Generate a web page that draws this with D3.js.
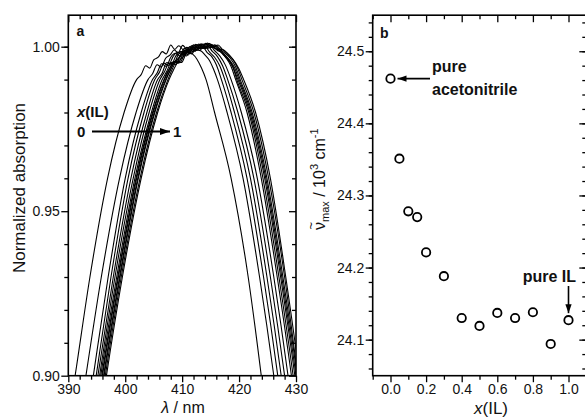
<!DOCTYPE html>
<html>
<head>
<meta charset="utf-8">
<script src="https://cdn.jsdelivr.net/npm/d3@7"></script>
<style>
  body { margin: 0; background: #fff; }
  svg text { font-family: Arial, "Liberation Sans", sans-serif; fill: #111; }
</style>
</head>
<body>
<div id="chart"></div>
<script>
// panel b: band maximum vs. mole fraction of ionic liquid
const fractions = [0, 0.05, 0.1, 0.15, 0.2, 0.3, 0.4, 0.5, 0.6, 0.7, 0.8, 0.9, 1.0];
const wavenumbers = [24.462, 24.351, 24.278, 24.270, 24.221, 24.188, 24.130, 24.119, 24.137, 24.130, 24.138, 24.094, 24.127];

// panel a: spectra, one row per fraction (same order as above)
// wavelength where each flank crosses these absorbance levels
const flankLevels = [0.88, 0.90, 0.93, 0.96, 0.98, 0.99];
const leftFlank = [
  [389.4, 391.2, 393.8, 396.9, 399.8, 402.0],
  [391.4, 393.1, 395.8, 399.0, 401.9, 404.0],
  [392.7, 394.4, 397.0, 400.0, 402.8, 404.8],
  [393.2, 394.9, 397.5, 400.5, 403.3, 405.2],
  [393.5, 395.2, 397.9, 401.0, 403.8, 405.7],
  [393.8, 395.5, 398.2, 401.4, 404.2, 406.1],
  [394.0, 395.7, 398.5, 401.7, 404.6, 406.5],
  [394.2, 395.9, 398.7, 401.9, 404.8, 406.8],
  [394.3, 396.0, 398.8, 402.0, 404.9, 406.9],
  [394.5, 396.2, 399.0, 402.2, 405.1, 407.1],
  [394.6, 396.3, 399.1, 402.3, 405.2, 407.2],
  [395.0, 396.7, 399.5, 402.8, 405.7, 407.7],
  [394.8, 396.5, 399.3, 402.6, 405.5, 407.5]
];
const rightFlank = [
  [425.3, 423.9, 421.6, 418.6, 415.7, 414.2],
  [427.6, 426.1, 423.6, 420.7, 417.9, 416.2],
  [428.3, 426.8, 424.3, 421.4, 418.6, 416.9],
  [428.9, 427.4, 424.9, 422.0, 419.2, 417.5],
  [429.5, 428.0, 425.5, 422.6, 419.8, 418.0],
  [430.1, 428.6, 426.1, 423.2, 420.4, 418.6],
  [430.7, 429.2, 426.7, 423.9, 421.4, 419.4],
  [431.3, 429.8, 427.3, 424.5, 421.9, 419.8],
  [431.0, 429.5, 427.0, 424.2, 421.7, 419.6],
  [431.5, 430.0, 427.5, 424.7, 422.1, 420.0],
  [431.7, 430.2, 427.7, 424.9, 422.3, 420.2],
  [432.0, 430.6, 428.2, 425.5, 422.9, 420.8],
  [431.8, 430.3, 428.0, 425.2, 422.6, 420.5]
];
// noisy band tops [wavelength, absorbance]
const bandTops = [
  [[402.8,0.9915],[403.6,0.9942],[404.3,0.9935],[405.0,0.9960],[405.8,0.9968],[406.5,0.9985],[407.2,0.9978],[408.0,1.0005],[408.7,0.9992],[409.4,1.0003],[410.2,0.9990],[411.0,0.9985],[411.8,0.9978],[412.6,0.9962],[413.4,0.9935]],
  [[404.8,0.9918],[405.6,0.9945],[406.3,0.9938],[407.1,0.9965],[407.9,0.9975],[408.6,0.9990],[409.3,0.9982],[410.1,1.0004],[410.8,0.9993],[411.6,1.0002],[412.4,0.9990],[413.2,0.9988],[414.0,0.9975],[414.8,0.9958],[415.5,0.9932]],
  [[405.6,0.9920],[406.4,0.9948],[407.2,0.9940],[408.0,0.9968],[408.8,0.9980],[409.6,0.9972],[410.4,0.9995],[411.2,0.9988],[412.0,1.0006],[412.8,0.9994],[413.6,1.0000],[414.4,0.9982],[415.2,0.9970],[416.0,0.9945]],
  [[406.0,0.9922],[406.8,0.9950],[407.6,0.9943],[408.4,0.9970],[409.2,0.9983],[410.0,0.9976],[410.8,0.9998],[411.6,0.9990],[412.4,1.0007],[413.2,0.9996],[414.0,1.0001],[414.8,0.9984],[415.7,0.9968],[416.6,0.9942]],
  [[406.5,0.9920],[407.3,0.9952],[408.1,0.9946],[408.9,0.9972],[409.7,0.9985],[410.5,0.9978],[411.3,1.0000],[412.1,0.9991],[412.9,1.0008],[413.7,0.9995],[414.5,1.0002],[415.3,0.9986],[416.2,0.9970],[417.1,0.9942]],
  [[406.9,0.9924],[407.7,0.9950],[408.5,0.9948],[409.3,0.9975],[410.1,0.9986],[410.9,0.9980],[411.7,1.0003],[412.5,0.9992],[413.3,1.0009],[414.1,0.9996],[414.9,1.0004],[415.7,0.9988],[416.6,0.9972],[417.6,0.9944]],
  [[407.3,0.9925],[408.1,0.9952],[408.9,0.9946],[409.7,0.9974],[410.5,0.9988],[411.3,0.9980],[412.1,1.0004],[412.9,0.9993],[413.7,1.0008],[414.5,0.9995],[415.3,1.0006],[416.1,0.9990],[416.9,0.9982],[417.7,0.9966],[418.6,0.9940]],
  [[407.6,0.9928],[408.4,0.9950],[409.2,0.9962],[410.0,0.9978],[410.8,0.9972],[411.6,0.9995],[412.4,0.9988],[413.2,1.0006],[414.0,0.9994],[414.8,1.0009],[415.6,0.9996],[416.4,0.9992],[417.2,0.9976],[418.0,0.9962],[418.9,0.9938]],
  [[407.7,0.9930],[408.5,0.9955],[409.3,0.9950],[410.1,0.9976],[410.9,0.9990],[411.7,0.9983],[412.5,1.0005],[413.3,0.9994],[414.1,1.0010],[414.9,0.9997],[415.7,1.0003],[416.5,0.9988],[417.3,0.9978],[418.1,0.9962],[418.9,0.9940]],
  [[407.9,0.9928],[408.7,0.9954],[409.5,0.9966],[410.3,0.9982],[411.1,0.9975],[411.9,0.9998],[412.7,0.9990],[413.5,1.0008],[414.3,0.9996],[415.1,1.0007],[415.9,0.9993],[416.7,0.9990],[417.5,0.9975],[418.3,0.9960],[419.2,0.9936]],
  [[408.0,0.9932],[408.8,0.9956],[409.6,0.9951],[410.4,0.9978],[411.2,0.9992],[412.0,0.9985],[412.8,1.0006],[413.6,0.9995],[414.4,1.0011],[415.2,0.9998],[416.0,1.0004],[416.8,0.9990],[417.6,0.9980],[418.5,0.9964],[419.4,0.9938]],
  [[408.5,0.9930],[409.3,0.9955],[410.1,0.9968],[410.9,0.9984],[411.7,0.9978],[412.5,1.0000],[413.3,0.9992],[414.1,1.0009],[414.9,0.9997],[415.7,1.0006],[416.5,0.9994],[417.3,0.9990],[418.1,0.9976],[418.9,0.9962],[419.9,0.9935]],
  [[408.3,0.9933],[409.1,0.9957],[409.9,0.9952],[410.7,0.9980],[411.5,0.9993],[412.3,0.9986],[413.1,1.0007],[413.9,0.9996],[414.7,1.0010],[415.5,0.9998],[416.3,1.0005],[417.1,0.9991],[417.9,0.9981],[418.8,0.9964],[419.7,0.9937]]
];

// tick values
const aXMajor = [390, 400, 410, 420, 430];
const aYMajor = [0.90, 0.95, 1.00];
const bXMajor = [0.0, 0.2, 0.4, 0.6, 0.8, 1.0];
const bYMajor = [24.1, 24.2, 24.3, 24.4, 24.5];

const width = 585, height = 417;
const plotTop = 15.2, plotBottom = 375.7;

const svg = d3.select("#chart").append("svg")
    .attr("width", width)
    .attr("height", height);

const defs = svg.append("defs");
defs.append("clipPath").attr("id", "clipA")
  .append("rect")
    .attr("x", 68.3).attr("y", plotTop)
    .attr("width", 296 - 68.3).attr("height", plotBottom - plotTop);

defs.append("marker")
    .attr("id", "head")
    .attr("markerUnits", "userSpaceOnUse")
    .attr("viewBox", "0 0 10 7")
    .attr("markerWidth", 10).attr("markerHeight", 7)
    .attr("refX", 10).attr("refY", 3.5)
    .attr("orient", "auto")
  .append("path")
    .attr("d", "M0,0L10,3.5L0,7Z")
    .attr("fill", "#000");

defs.append("marker")
    .attr("id", "headSmall")
    .attr("markerUnits", "userSpaceOnUse")
    .attr("viewBox", "0 0 10 7")
    .attr("markerWidth", 9).attr("markerHeight", 6.3)
    .attr("refX", 10).attr("refY", 3.5)
    .attr("orient", "auto")
  .append("path")
    .attr("d", "M0,0L10,3.5L0,7Z")
    .attr("fill", "#000");

// scales
const xA = d3.scaleLinear().domain([390, 430]).range([68.3, 296]);
const yA = d3.scaleLinear().domain([0.90, 1.00]).range([plotBottom, 46.7]);
const xB = d3.scaleLinear().domain([-0.1, 1.1]).range([372.7, 586.3]);
const yB = d3.scaleLinear().domain([24.05, 24.55]).range([plotBottom, plotTop]);

// draw one tick set; inward ticks get a negative size
function ticks(axisFn, scale, values, size, transform, labels, fmt) {
  const ax = axisFn(scale)
      .tickValues(values)
      .tickSizeInner(size)
      .tickSizeOuter(0)
      .tickPadding(1.5)
      .tickFormat(labels ? d3.format(fmt) : "");
  const g = svg.append("g")
      .attr("transform", transform)
      .call(ax);
  g.select(".domain").remove();
  g.selectAll("line").attr("stroke", "#000").attr("stroke-width", 1.3);
  g.selectAll("text")
      .style("font-size", "14px")
      .attr("fill", "#111");
  return g;
}

// panel a axes
const aXMinor = d3.range(392, 430, 2).filter(v => v % 10 != 0);
const aYMinor = [0.91, 0.92, 0.93, 0.94, 0.96, 0.97, 0.98, 0.99, 1.0];
ticks(d3.axisBottom, xA, aXMajor, 6.5, `translate(0,${plotBottom})`, true, "d");
ticks(d3.axisBottom, xA, aXMinor, 4, `translate(0,${plotBottom})`, false);
ticks(d3.axisTop, xA, aXMajor, -7, `translate(0,${plotTop})`, false);
ticks(d3.axisTop, xA, aXMinor, -4, `translate(0,${plotTop})`, false);
ticks(d3.axisLeft, yA, aYMajor, 7, `translate(68.3,0)`, true, ".2f");
ticks(d3.axisLeft, yA, aYMinor, 4, `translate(68.3,0)`, false);
ticks(d3.axisRight, yA, aYMajor, -7, `translate(296,0)`, false);
ticks(d3.axisRight, yA, aYMinor, -4, `translate(296,0)`, false);

// panel b axes
const bXMinor = [-0.1, 0.1, 0.3, 0.5, 0.7, 0.9];
const bYMinor = d3.range(24.06, 24.55, 0.02);
ticks(d3.axisBottom, xB, bXMajor, 6.5, `translate(0,${plotBottom})`, true, ".1f");
ticks(d3.axisBottom, xB, bXMinor, 4, `translate(0,${plotBottom})`, false);
ticks(d3.axisTop, xB, bXMajor, -7, `translate(0,${plotTop})`, false);
ticks(d3.axisTop, xB, bXMinor, -4, `translate(0,${plotTop})`, false);
ticks(d3.axisLeft, yB, bYMajor, 7, `translate(372.7,0)`, true, ".1f");
ticks(d3.axisLeft, yB, bYMinor, 4, `translate(372.7,0)`, false);
ticks(d3.axisRight, yB, bYMajor, -7, `translate(586.3,0)`, false);
ticks(d3.axisRight, yB, bYMinor, -4, `translate(586.3,0)`, false);

// spectra
const line = d3.line()
    .x(d => xA(d[0]))
    .y(d => yA(d[1]))
    .curve(d3.curveMonotoneX);

const spectra = fractions.map((f, i) => {
  const left = leftFlank[i].map((w, k) => [w, flankLevels[k]]);
  const right = rightFlank[i].map((w, k) => [w, flankLevels[k]]).reverse();
  return left.concat(bandTops[i], right);
});

svg.append("g")
    .attr("clip-path", "url(#clipA)")
  .selectAll("path")
  .data(spectra)
  .enter()
  .append("path")
    .attr("d", line)
    .attr("fill", "none")
    .attr("stroke", "#000")
    .attr("stroke-width", 1.1);

// panel b points
svg.append("g")
  .selectAll("circle")
  .data(fractions)
  .enter()
  .append("circle")
    .attr("cx", d => xB(d))
    .attr("cy", (d, i) => yB(wavenumbers[i]))
    .attr("r", 4.2)
    .attr("fill", "#fff")
    .attr("stroke", "#000")
    .attr("stroke-width", 1.8);

// frames
svg.append("rect")
    .attr("x", 68.3).attr("y", plotTop)
    .attr("width", 296 - 68.3).attr("height", plotBottom - plotTop)
    .attr("fill", "none").attr("stroke", "#000").attr("stroke-width", 1.6);
svg.append("rect")
    .attr("x", 372.7).attr("y", plotTop)
    .attr("width", 586.3 - 372.7).attr("height", plotBottom - plotTop)
    .attr("fill", "none").attr("stroke", "#000").attr("stroke-width", 1.6);

// panel letters
svg.append("text").text("a")
    .attr("x", 76.5).attr("y", 36)
    .style("font-size", "14px").style("font-weight", "bold");
svg.append("text").text("b")
    .attr("x", 380).attr("y", 38)
    .style("font-size", "14px").style("font-weight", "bold");

// axis titles
svg.append("text")
    .attr("transform", "translate(25,188) rotate(-90)")
    .attr("text-anchor", "middle")
    .style("font-size", "17px")
    .text("Normalized absorption");

const lamLabel = svg.append("text")
    .attr("x", 183).attr("y", 412.5)
    .attr("text-anchor", "middle")
    .style("font-size", "16px");
lamLabel.append("tspan").style("font-style", "italic").text("λ");
lamLabel.append("tspan").text(" / nm");

const xLabel = svg.append("text")
    .attr("x", 491).attr("y", 414)
    .attr("text-anchor", "middle")
    .style("font-size", "17px");
xLabel.append("tspan").style("font-style", "italic").text("x");
xLabel.append("tspan").text("(IL)");

const nuG = svg.append("g").attr("transform", "translate(325,230) rotate(-90)");
const nuLabel = nuG.append("text").style("font-size", "16px");
nuLabel.append("tspan").text("ν");
nuLabel.append("tspan").attr("dy", 4).style("font-size", "11px").text("max");
nuLabel.append("tspan").attr("dy", -4).text(" / 10");
nuLabel.append("tspan").attr("dy", -7).style("font-size", "11px").text("3");
nuLabel.append("tspan").attr("dy", 7).text(" cm");
nuLabel.append("tspan").attr("dy", -7).style("font-size", "11px").text("-1");
nuG.append("text").attr("x", 0.5).attr("y", -10).style("font-size", "13px").text("~");

// panel a legend arrow
const legA = svg.append("text")
    .attr("x", 77).attr("y", 117)
    .style("font-size", "15px").style("font-weight", "bold");
legA.append("tspan").style("font-style", "italic").text("x");
legA.append("tspan").text("(IL)");
svg.append("text").text("0")
    .attr("x", 77).attr("y", 136.5)
    .style("font-size", "15px").style("font-weight", "bold");
svg.append("text").text("1")
    .attr("x", 173).attr("y", 136.5)
    .style("font-size", "15px").style("font-weight", "bold");
svg.append("line")
    .attr("x1", 92).attr("x2", 170)
    .attr("y1", 131.5).attr("y2", 131.5)
    .attr("stroke", "#000").attr("stroke-width", 2)
    .attr("marker-end", "url(#head)");

// panel b annotations
svg.append("text").text("pure")
    .attr("x", 432).attr("y", 71.5)
    .style("font-size", "16px").style("font-weight", "bold");
svg.append("text").text("acetonitrile")
    .attr("x", 432).attr("y", 95)
    .style("font-size", "16px").style("font-weight", "bold");
svg.append("line")
    .attr("x1", 430).attr("x2", xB(0) + 7)
    .attr("y1", yB(wavenumbers[0])).attr("y2", yB(wavenumbers[0]))
    .attr("stroke", "#000").attr("stroke-width", 1.6)
    .attr("marker-end", "url(#headSmall)");

svg.append("text").text("pure IL")
    .attr("x", 576).attr("y", 282)
    .attr("text-anchor", "end")
    .style("font-size", "16px").style("font-weight", "bold");
svg.append("line")
    .attr("x1", xB(1)).attr("x2", xB(1))
    .attr("y1", 286).attr("y2", yB(wavenumbers[12]) - 7)
    .attr("stroke", "#000").attr("stroke-width", 1.6)
    .attr("marker-end", "url(#headSmall)");
</script>
</body>
</html>
